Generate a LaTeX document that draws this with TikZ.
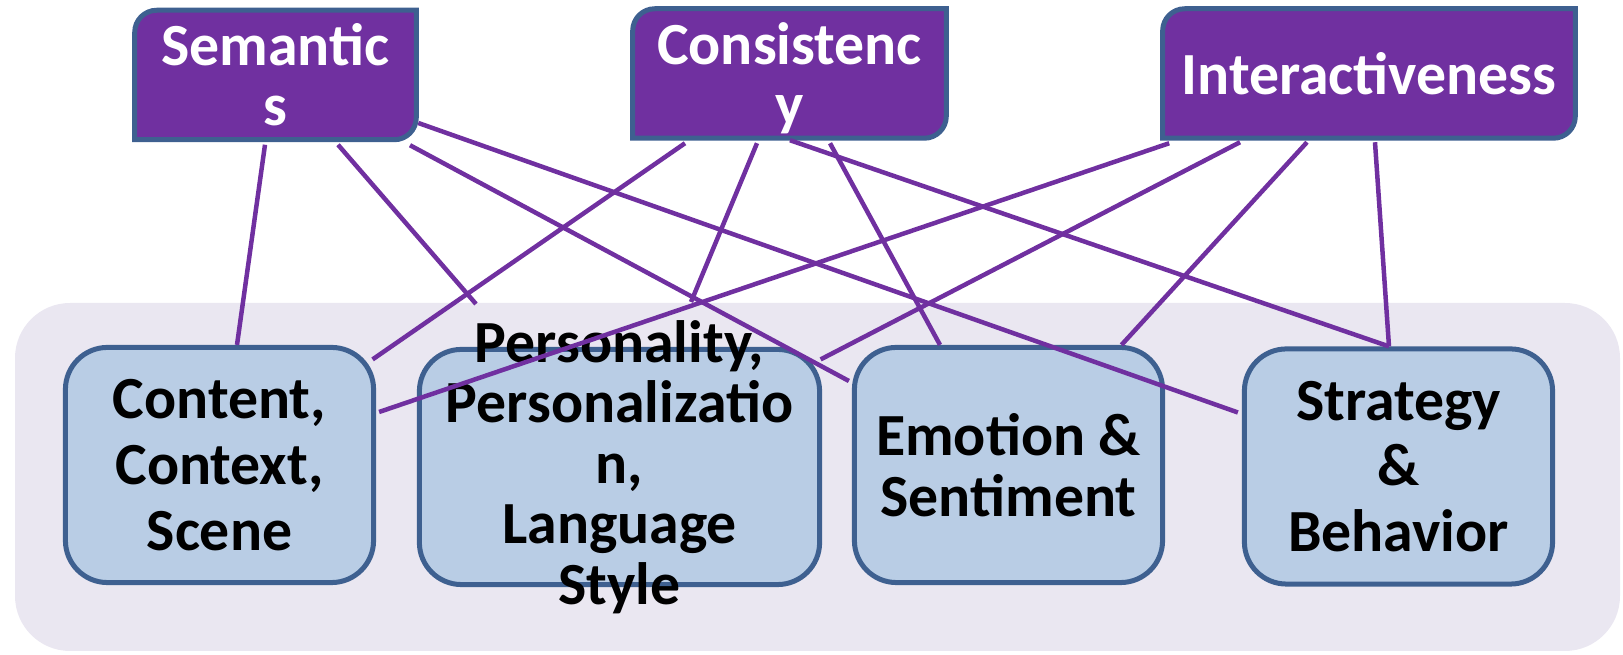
\documentclass[tikz,border=0pt]{standalone}
\usepackage{fontspec}
\setmainfont{Carlito}
\usetikzlibrary{calc,backgrounds}

\definecolor{dimPurple}{HTML}{7030A0}
\definecolor{dimEdge}{HTML}{3E6090}
\definecolor{boxBlue}{HTML}{B9CDE5}
\definecolor{groundLilac}{HTML}{EAE7F1}

\begin{document}
\begin{tikzpicture}[x=0.01cm,y=0.01cm]
	\useasboundingbox (0,0) rectangle (1623,655);
	\begin{scope}
		[
			topBox/.style={
				minimum width = #1, minimum height = 1.28cm,
				inner sep = 0pt, align = center, text = white,
				font = \fontsize{17}{17}\selectfont\bfseries
				},
			lowBox/.style={
				minimum width = 3.08cm, minimum height = 2.35cm,
				inner sep = 0pt, align = center, draw = dimEdge, fill = boxBlue,
				line width = 0.05cm, rounded corners = 0.42cm,
				font = \fontsize{17}{18.7}\selectfont\bfseries
				},
			tightText/.style={font = \fontsize{17}{17.2}\selectfont\bfseries},
		]
		% dimension boxes
		\node(sem)[topBox=2.80cm] at (275.5,580) {Semantic\\s};
		\node(cons)[topBox=3.12cm] at (789.5,581.5) {Consistenc\\\smash{y}};
		\node(inter)[topBox=4.11cm] at (1369,581.5) {Interactiveness};

		% aspect boxes
		\node(cont)[lowBox] at (219.5,190) {Content,\\Context,\\Scene};
		\node(pers)[lowBox, minimum width = 4.00cm] at (619.5,188) {};
		\node(persText)[align = center, inner sep = 0pt, tightText] at (pers.center)
			{Personality,\\Personalizatio\\n,\\Language\\Style};
		\node(emo)[lowBox, tightText] at (1008.5,190) {Emotion \&\\Sentiment};
		\node(strat)[lowBox] at (1398.5,188.5) {Strategy\\\&\\Behavior};

		\coordinate(semEnd) at (476,351);
		\coordinate(consEnd) at (691,353);
	\end{scope}

	\begin{scope}[on background layer]
		\fill[groundLilac, rounded corners = 0.55cm] (15,4) rectangle (1620,352);
		\foreach \n in {sem,cons,inter}
			\filldraw[fill = dimPurple, draw = dimEdge, line width = 0.05cm]
				([yshift=-0.22cm]\n.north west) arc[start angle=180, end angle=90, radius=0.22cm]
				-- (\n.north east) -- ([yshift=0.22cm]\n.south east)
				arc[start angle=0, end angle=-90, radius=0.22cm]
				-- (\n.south west) -- cycle;
	\end{scope}

	\begin{scope}
		[ link/.style = {draw = dimPurple, line width = 0.045cm} ]
		\path
		($(sem.south)+(-10.5,-5)$) edge[link] ($(cont.north)+(17.5,0)$)
		($(sem.south)+(62.5,-5)$) edge[link] (semEnd)
		($(sem.south)+(134.5,-5.5)$) edge[link] ($(emo.west)+(-3,84)$)
		($(sem.east)+(2,-48)$) edge[link] ($(strat.west)+(-4,54)$)

		($(cons.south)+(-104.5,-5)$) edge[link] ($(cont.north east)+(-3.5,-14.5)$)
		($(cons.south)+(-32.5,-5)$) edge[link] (consEnd)
		($(cons.south)+(0.5,-2)$) edge[link] ($(strat.north)+(-9.5,0)$)
		($(cons.south)+(40.5,-5)$) edge[link] ($(emo.north)+(-68.5,0)$)

		($(inter.south west)+(6.5,-5)$) edge[link] ($(cont.east)+(3,53)$)
		($(inter.south)+(-129,-4)$) edge[link] ($(pers.north east)+(-1.5,-12.5)$)
		($(inter.south)+(-62,-4)$) edge[link] ($(emo.north)+(113,0)$)
		($(inter.south)+(6,-4)$) edge[link] ($(strat.north)+(-9.5,0)$);
	\end{scope}
\end{tikzpicture}
\end{document}
